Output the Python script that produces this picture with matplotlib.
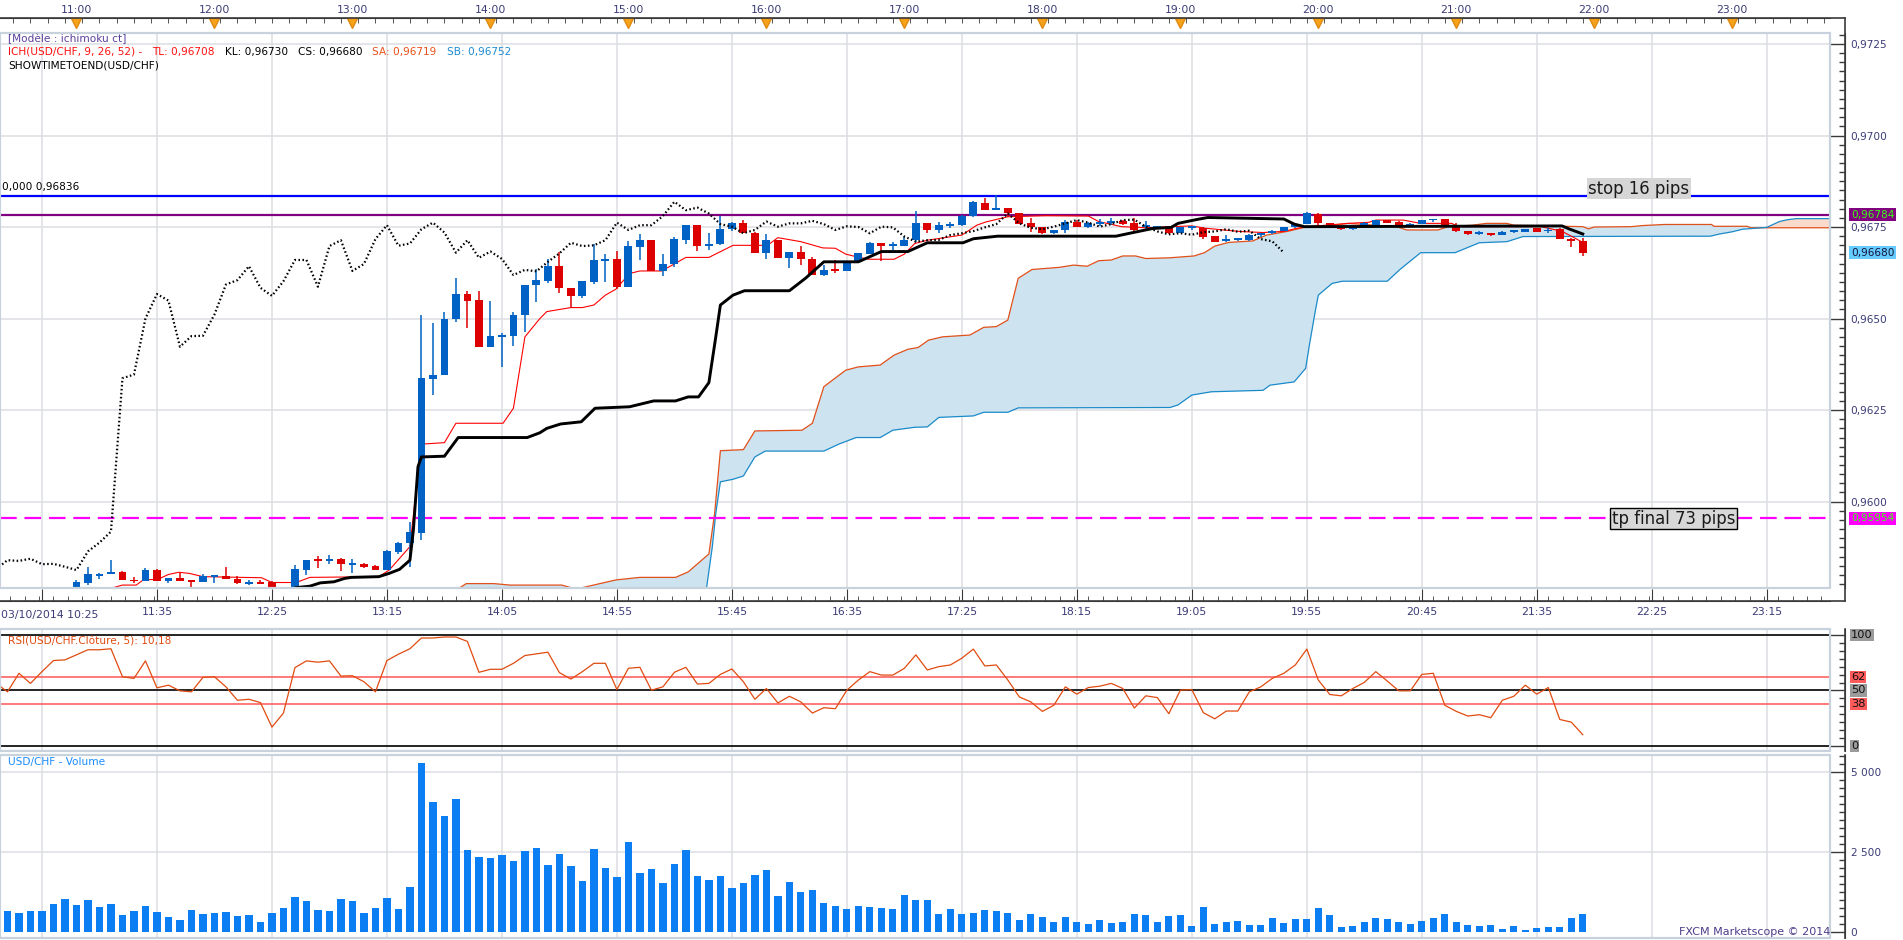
import numpy as np
import matplotlib.pyplot as plt
from matplotlib import transforms
from matplotlib.patches import Rectangle
from matplotlib.lines import Line2D
from matplotlib.ticker import FixedLocator, MultipleLocator, FuncFormatter

plt.rcParams['font.family'] = ['DejaVu Sans']

W, H = 1903, 940

# prices are given in pips above 0,9600 ; x = number of 5 min bars after 10:25
BASE, PIP = 0.9600, 0.0001
T0 = 10 * 60 + 25

candle_start = 7
opens = [-24.5, -22.3, -20.3, -19.9, -19.2, -21.4, -21.6, -18.6, -21.8, -20.8,
         -21.6, -22.0, -20.5, -20.2, -21.1, -22.4, -22.0, -22.0, -25.0, -24.6,
         -18.8, -16.0, -16.3, -15.7, -17.2, -17.0, -17.6, -18.7, -13.8, -11.3,
         -8.5, 33.5, 34.5, 49.9, 56.7, 55.0, 42.3, 45.0, 45.3, 51.0,
         59.3, 60.3, 64.3, 58.4, 56.2, 60.0, 65.8, 66.3, 58.7, 69.6,
         71.4, 63.0, 64.9, 71.4, 75.5, 69.9, 70.3, 74.4, 76.2, 73.5,
         68.0, 71.4, 66.6, 68.3, 66.4, 61.9, 63.3, 62.9, 65.5, 67.6,
         70.7, 69.8, 69.8, 71.4, 76.2, 74.2, 75.3, 75.5, 78.1, 81.7,
         79.6, 80.3, 78.7, 76.0, 75.1, 73.3, 74.2, 76.5, 75.1, 75.8,
         76.0, 76.7, 76.2, 75.1, 74.9, 75.1, 73.3, 74.8, 74.8, 72.5,
         71.3, 71.4, 71.4, 72.7, 73.3, 73.8, 74.9, 75.8, 78.5, 76.0,
         75.1, 74.4, 75.2, 75.6, 76.9, 76.5, 75.1, 75.8, 76.8, 77.2,
         75.1, 73.8, 73.1, 73.4, 72.9, 73.6, 73.7, 74.6, 73.8, 74.4,
         71.8, 71.3]
highs = [-21.4, -17.8, -19.4, -16.0, -18.9, -20.5, -18.2, -18.4, -20.9, -19.5,
         -21.4, -19.9, -20.3, -17.8, -20.3, -21.5, -21.4, -21.8, -24.2, -17.3,
         -16.0, -14.8, -14.6, -15.5, -15.6, -16.8, -17.4, -13.2, -11.0, -5.6,
         51.0, 48.9, 51.9, 61.1, 57.5, 57.5, 54.8, 46.0, 51.7, 59.3,
         63.4, 66.4, 68.3, 58.4, 60.2, 70.5, 67.6, 68.5, 71.2, 73.1,
         71.4, 67.6, 72.3, 75.5, 75.5, 73.3, 78.0, 76.5, 76.9, 73.7,
         73.1, 71.4, 68.3, 69.8, 66.9, 64.6, 66.0, 65.5, 67.8, 71.0,
         70.7, 71.0, 72.3, 79.4, 76.2, 76.3, 76.3, 78.3, 82.2, 82.8,
         83.7, 80.3, 78.8, 77.4, 75.1, 74.2, 77.0, 77.0, 76.3, 77.2,
         77.4, 77.0, 77.4, 76.7, 75.3, 75.1, 75.1, 75.1, 75.1, 72.5,
         72.8, 71.7, 73.0, 73.5, 74.2, 75.1, 76.0, 79.2, 78.7, 76.0,
         75.3, 75.2, 76.3, 77.0, 77.0, 76.6, 76.0, 77.0, 77.2, 77.3,
         76.0, 73.9, 73.8, 73.5, 73.8, 74.2, 74.5, 74.8, 74.6, 74.6,
         72.0, 72.0]
lows = [-25.0, -22.9, -21.2, -19.9, -21.3, -22.3, -21.6, -21.8, -22.3, -21.8,
        -23.5, -22.0, -22.3, -21.1, -22.4, -22.9, -22.6, -25.5, -26.0, -24.8,
        -20.1, -18.1, -17.1, -19.0, -19.6, -18.1, -18.8, -18.8, -14.2, -18.0,
        -10.5, 29.1, 34.5, 49.1, 47.3, 42.3, 42.3, 36.8, 42.6, 46.4,
        54.6, 59.8, 57.1, 52.8, 55.7, 59.5, 60.0, 58.0, 58.7, 66.0,
        63.0, 61.7, 64.2, 70.3, 68.5, 68.8, 70.1, 73.8, 73.5, 68.0,
        66.3, 66.6, 63.7, 64.6, 61.9, 61.5, 62.4, 62.9, 65.1, 67.6,
        65.8, 68.8, 69.8, 71.0, 73.3, 73.5, 74.7, 75.2, 77.8, 79.6,
        79.6, 77.8, 75.8, 73.7, 73.0, 73.0, 73.3, 75.0, 74.7, 75.4,
        75.5, 75.5, 74.0, 74.2, 74.5, 73.0, 73.3, 74.2, 71.7, 71.0,
        71.0, 71.3, 71.2, 72.4, 73.2, 73.8, 74.7, 75.7, 75.4, 74.7,
        74.2, 74.3, 75.1, 75.5, 76.0, 75.0, 75.0, 75.7, 76.5, 75.0,
        73.7, 72.9, 72.9, 72.6, 72.9, 73.3, 73.6, 73.6, 73.4, 71.7,
        69.6, 67.1]
closes = [-21.9, -19.9, -20.0, -19.2, -21.3, -21.8, -18.6, -21.8, -21.0, -21.6,
          -22.0, -20.2, -20.3, -21.1, -22.2, -22.2, -22.4, -25.0, -24.6, -18.5,
          -16.0, -16.2, -15.6, -17.1, -17.0, -17.8, -18.7, -13.6, -11.2, -8.2,
          33.7, 34.7, 50.0, 56.7, 54.9, 42.3, 45.2, 45.3, 51.1, 59.3,
          60.5, 64.3, 58.4, 56.2, 60.2, 66.0, 66.0, 58.7, 69.8, 71.4,
          63.0, 64.9, 71.7, 75.5, 69.9, 70.5, 74.4, 76.2, 73.5, 68.0,
          71.4, 66.6, 68.3, 66.3, 61.9, 63.3, 62.9, 65.5, 67.8, 70.7,
          69.8, 70.0, 71.4, 76.2, 74.2, 75.5, 75.5, 78.0, 81.9, 79.6,
          80.3, 78.7, 75.8, 75.1, 73.3, 74.2, 76.5, 75.1, 76.0, 76.0,
          76.7, 75.8, 74.2, 75.2, 75.0, 73.3, 75.1, 74.9, 72.4, 71.0,
          71.4, 71.5, 72.8, 73.3, 73.9, 74.9, 75.8, 78.7, 76.0, 74.8,
          74.4, 75.1, 76.0, 76.9, 76.2, 75.1, 75.8, 76.9, 77.0, 75.1,
          73.8, 73.0, 73.3, 72.9, 73.6, 73.8, 74.4, 73.7, 74.0, 71.7,
          71.1, 68.0]

# Ichimoku lines read as (bar, pips) vertices
tenkan_x = [10.2, 11.0, 12.2, 12.8, 14.1, 15.0, 15.9, 16.8, 18.0, 23.1, 24.0, 26.1, 27.3, 33.3,
            34.2, 36.0, 36.7, 37.0, 39.0, 40.0, 44.1, 45.0, 46.0, 47.3, 47.9, 50.0, 51.0, 52.0,
            53.0, 53.9, 55.1, 56.0, 57.9, 60.0, 62.0, 64.1, 67.1, 68.0, 70.0, 71.9, 73.0, 73.9,
            74.8, 75.9, 78.1, 79.0, 79.9, 81.0, 84.0, 85.3, 86.1, 88.0, 91.3, 95.0, 95.9, 97.9,
            100.0, 102.1, 104.0, 105.1, 108.1, 110.2, 112.0, 113.2, 114.1, 117.6, 119.4, 120.0,
            122.4, 123.9, 126.6, 127.2, 134.4, 136.2, 137.0, 138.0]
tenkan_y = [-23.5, -22.8, -22.8, -21.4, -21.2, -19.9, -19.3, -19.6, -20.5, -20.8, -22.1, -22.1,
            -20.7, -20.5, -18.7, -12.3, 7.7, 15.7, 16.1, 21.4, 21.4, 25.5, 45.0, 50.0, 51.9, 53.0,
            53.0, 53.7, 56.4, 58.0, 62.3, 63.0, 63.0, 66.7, 66.7, 70.0, 70.0, 72.1, 71.0, 69.3,
            69.2, 67.6, 66.9, 66.2, 66.2, 67.6, 70.5, 71.4, 72.8, 75.5, 76.4, 77.8, 78.1, 78.0,
            76.5, 75.1, 74.8, 75.1, 75.3, 74.7, 73.8, 73.5, 73.8, 74.7, 75.1, 76.0, 76.3, 76.9,
            76.9, 76.0, 76.0, 75.1, 75.1, 73.8, 72.5, 70.8]

kijun_x = [26.1, 27.3, 28.2, 29.4, 30.3, 30.9, 33.3, 34.2, 35.1, 36.0, 36.3, 36.7, 37.0, 39.0,
           40.2, 46.2, 47.3, 47.9, 49.1, 50.9, 52.1, 55.1, 57.2, 59.1, 60.2, 61.1, 62.0, 62.6,
           63.0, 64.1, 65.1, 69.0, 70.4, 72.0, 75.0, 77.0, 79.3, 81.0, 84.1, 85.0, 87.1, 97.4,
           98.9, 100.6, 102.2, 102.8, 104.5, 105.4, 112.0, 112.9, 113.8, 136.2, 136.8, 138.0]
kijun_y = [-23.5, -23.1, -22.2, -21.9, -21.0, -20.7, -20.5, -19.6, -18.5, -16.0, -7.8, 9.5, 12.2,
           12.4, 17.5, 17.5, 18.8, 20.0, 21.2, 21.8, 25.5, 25.9, 27.5, 27.5, 28.6, 28.6, 32.5,
           45.0, 53.7, 56.4, 57.6, 57.6, 61.0, 65.5, 65.5, 68.3, 68.3, 70.7, 70.7, 71.8, 72.5,
           72.5, 73.5, 74.6, 74.9, 76.0, 77.1, 77.6, 77.2, 75.8, 75.1, 75.3, 74.5, 73.1]

senkou_a_x = [40.3, 40.9, 43.3, 44.7, 49.2, 50.0, 51.0, 53.9, 56.0, 59.1, 60.2, 62.0, 62.5, 63.0,
              65.0, 66.0, 70.1, 71.0, 72.0, 73.9, 75.0, 76.9, 78.1, 79.3, 80.2, 81.1, 82.3, 84.7,
              85.9, 87.0, 88.0, 88.9, 90.1, 91.3, 92.5, 93.7, 94.9, 95.9, 97.0, 98.0, 99.1, 100.0,
              102.1, 104.2, 105.1, 106.0, 107.2, 109.3, 110.5, 112.3, 113.5, 114.1, 115.3, 117.6,
              121.8, 122.7, 125.4, 126.3, 128.4, 129.6, 131.4, 132.0, 138.0, 138.5, 139.0, 142.2,
              143.2, 145.1, 149.2, 149.4, 152.3, 152.6, 154.0, 159.5]
senkou_a_y = [-23.6, -22.4, -22.4, -22.8, -22.8, -23.5, -23.5, -21.4, -20.7, -20.7, -19.2, -14.3,
              -3.2, 13.9, 14.2, 19.3, 19.5, 21.4, 31.4, 35.9, 36.8, 37.3, 40.0, 41.6, 42.1, 44.1,
              45.0, 45.5, 47.6, 47.8, 49.6, 61.0, 63.4, 63.7, 64.0, 64.6, 64.3, 65.8, 66.0, 67.1,
              67.1, 66.4, 66.6, 67.1, 68.0, 69.8, 70.8, 71.2, 72.8, 73.8, 74.7, 75.1, 75.1, 76.0,
              75.1, 74.2, 74.2, 75.1, 75.5, 76.0, 76.0, 75.5, 75.1, 74.5, 75.0, 75.1, 75.4, 75.7,
              75.7, 75.2, 75.2, 74.8, 74.8, 74.8]

senkou_b_x = [40.3, 61.5, 61.8, 62.3, 62.6, 63.0, 64.1, 65.0, 66.0, 66.9, 72.0, 73.3, 74.8, 76.9,
              78.0, 79.9, 81.0, 82.0, 85.0, 85.9, 88.0, 88.9, 102.1, 102.8, 104.0, 105.7, 110.2,
              110.8, 112.9, 113.9, 114.2, 114.7, 115.0, 116.2, 117.1, 121.0, 122.1, 123.9, 126.9,
              129.0, 131.4, 132.8, 149.1, 149.9, 151.0, 151.9, 154.0, 155.1, 155.8, 156.6, 159.5]
senkou_b_y = [-32.0, -32.0, -23.5, -12.3, -3.2, 5.4, 6.1, 7.0, 12.2, 13.8, 13.8, 15.7, 17.5, 17.5,
              19.5, 20.3, 20.4, 23.0, 23.4, 24.4, 24.4, 25.6, 25.7, 26.4, 29.1, 30.0, 30.4, 31.8,
              32.7, 36.4, 42.3, 51.4, 56.4, 59.6, 60.2, 60.2, 63.4, 68.0, 68.0, 70.7, 71.0, 72.4,
              72.5, 73.1, 73.7, 74.4, 74.9, 76.5, 77.0, 77.3, 77.3]

chikou_shift = 26

rsi_values = [56.6, 48.8, 65.5, 56.4, 67.0, 77.0, 77.6, 82.1, 86.7, 86.7,
              87.6, 62.4, 60.9, 76.7, 52.4, 54.8, 49.7, 48.8, 61.8, 62.4,
              53.3, 41.2, 42.1, 39.1, 17.0, 29.7, 70.6, 76.7, 75.5, 76.7,
              63.0, 63.3, 57.9, 48.8, 77.0, 82.7, 87.6, 97.3, 97.3, 98.2,
              98.2, 94.2, 66.4, 69.1, 69.1, 74.5, 81.5, 83.0, 84.5, 66.1,
              60.3, 67.0, 74.5, 74.5, 50.9, 70.0, 70.9, 50.3, 53.3, 66.4,
              70.9, 55.8, 56.4, 64.5, 69.4, 57.9, 42.1, 51.8, 38.8, 44.8,
              39.7, 29.7, 34.5, 33.6, 50.3, 59.4, 67.0, 63.9, 63.9, 70.0,
              82.1, 68.5, 71.5, 73.0, 79.1, 87.3, 72.1, 73.0, 59.4, 44.2,
              39.7, 31.2, 36.7, 53.3, 46.7, 52.7, 53.9, 56.4, 51.8, 34.2,
              45.2, 43.6, 29.1, 50.3, 50.9, 30.0, 24.5, 31.5, 31.5, 48.8,
              53.3, 60.9, 65.5, 73.0, 87.3, 59.4, 46.4, 45.2, 51.8, 57.3,
              67.0, 58.5, 49.7, 49.7, 64.5, 65.5, 36.7, 31.2, 27.0, 28.2,
              25.5, 41.2, 44.8, 54.8, 46.7, 52.7, 23.9, 21.5, 10.18]

volume_start = 1
volumes = [650, 597, 650, 650, 880, 1038, 849, 996, 776, 880,
           534, 650, 807, 618, 461, 367, 681, 566, 597, 618,
           493, 524, 304, 587, 744, 1090, 964, 681, 650, 1027,
           964, 597, 744, 1058, 713, 1404, 5271, 4077, 3637, 4171,
           2568, 2348, 2316, 2410, 2222, 2536, 2630, 2096, 2442, 2065,
           1593, 2599, 2002, 1719, 2819, 1845, 1970, 1530, 2128, 2568,
           1750, 1624, 1750, 1373, 1530, 1782, 1939, 1121, 1562, 1247,
           1310, 912, 807, 713, 807, 776, 744, 713, 1153, 996,
           996, 555, 713, 555, 597, 681, 650, 587, 367, 555,
           461, 304, 461, 304, 241, 367, 272, 304, 555, 524,
           304, 493, 524, 178, 776, 241, 304, 335, 210, 210,
           430, 272, 398, 398, 744, 524, 147, 178, 304, 430,
           398, 304, 241, 335, 430, 555, 304, 210, 178, 210,
           84, 178, 52, 115, 147, 147, 430, 555]

price_levels = [0.96836, 0.96784, 0.95954]
last_close = 0.96680
bottom_labels = ['11:35', '12:25', '13:15', '14:05', '14:55', '15:45', '16:35', '17:25',
                 '18:15', '19:05', '19:55', '20:45', '21:35', '22:25', '23:15']
top_labels = ['11:00', '12:00', '13:00', '14:00', '15:00', '16:00', '17:00', '18:00',
              '19:00', '20:00', '21:00', '22:00', '23:00']
rsi_levels = [100, 62, 50, 38, 0]
vol_ticks = [0, 2500, 5000]


def bar_of(hhmm):
    hh, mm = hhmm.split(':')
    return (int(hh) * 60 + int(mm) - T0) / 5.0


def P(v):
    return BASE + np.asarray(v, dtype=float) * PIP


def fx(px):
    return px / W


def fy(py):
    return 1 - py / H


XLIM = (0.35, 159.5)
GRID = '#dcdee2'
AXC = '#3a3a3a'
LBL = '#3b3b78'
FS = 7.6
BLUE = '#0062c4'
RED = '#dd0000'

fig = plt.figure(figsize=(W / 100, H / 100), dpi=100)
fig.patch.set_facecolor('white')

ax = fig.add_axes([0, fy(588), fx(1830), 555 / H])
ax_rsi = fig.add_axes([0, fy(751), fx(1830), 122 / H])
ax_vol = fig.add_axes([0, fy(938), fx(1830), 183 / H])

grid_bars = [bar_of('10:45')] + [bar_of(t) for t in bottom_labels]


def setup_panel(a):
    a.set_xlim(*XLIM)
    for s in ('left', 'top'):
        a.spines[s].set_visible(False)
    a.add_patch(Rectangle((0, 0), 1, 1, transform=a.transAxes, fill=False,
                          ec='#c8d2dd', lw=1.6, clip_on=False, zorder=20))
    a.yaxis.tick_right()
    a.spines['right'].set_position(('outward', 10.8))
    a.spines['right'].set_color(AXC)
    a.tick_params(axis='y', which='both', direction='in', colors=AXC,
                  labelcolor=LBL, labelsize=FS, pad=4)
    a.tick_params(axis='y', which='major', length=10.8, width=1)
    a.tick_params(axis='y', which='minor', length=4.5, width=1)
    for g in grid_bars:
        a.axvline(g, color=GRID, lw=1.1, zorder=0)


for a in (ax, ax_rsi, ax_vol):
    setup_panel(a)

# ---------------- main price panel ----------------
ax.set_ylim(0.95764, 0.97280)
for lev in np.arange(0.9600, 0.97260, 0.0025):
    ax.axhline(lev, color=GRID, lw=1.1, zorder=0)

sa_x, sa_y = np.array(senkou_a_x), P(senkou_a_y)
sb_x, sb_y = np.array(senkou_b_x), P(senkou_b_y)
cross = 154.0
ma, mb = sa_x <= cross, sb_x <= cross
ax.fill(np.concatenate([sa_x[ma], sb_x[mb][::-1]]), np.concatenate([sa_y[ma], sb_y[mb][::-1]]),
        color='#cde3f0', lw=0, zorder=1)
ma, mb = sa_x >= cross, sb_x >= cross
ax.fill(np.concatenate([sa_x[ma], sb_x[mb][::-1]]), np.concatenate([sa_y[ma], sb_y[mb][::-1]]),
        color='#f9dacb', lw=0, zorder=1)
ax.plot(sa_x, sa_y, color='#e2501a', lw=0.9, zorder=2)
ax.plot(sb_x, sb_y, color='#1a8ac9', lw=0.9, zorder=2)

ax.axhline(price_levels[0], color='#0000ff', lw=1.6, zorder=3)
ax.axhline(price_levels[1], color='#800080', lw=1.6, zorder=3)
ax.axhline(price_levels[2], color='#ff00ff', lw=1.6, ls=(0, (7.5, 3.5)), zorder=3)

idx = np.arange(candle_start, candle_start + len(opens))
o, hi, lo, c = P(opens), P(highs), P(lows), P(closes)
cols = np.where(c >= o, BLUE, RED)
ax.plot(tenkan_x, P(tenkan_y), color='#ff0000', lw=0.8, zorder=3)
ax.vlines(idx, lo, hi, colors=cols, lw=1.1, zorder=4)
body = np.maximum(np.abs(c - o), 0.5 * PIP)
ax.bar(idx, body, bottom=np.minimum(o, c), width=0.68, color=cols, lw=0, zorder=5)
ax.plot(kijun_x, P(kijun_y), color='black', lw=2.1, zorder=6)
ax.plot(idx - chikou_shift, c, color='black', lw=1.6, ls=(0, (0.7, 1.1)), zorder=6)

ax.spines['bottom'].set_position(('outward', 9))
ax.spines['bottom'].set_color(AXC)
ax.xaxis.set_major_locator(FixedLocator(grid_bars))
ax.xaxis.set_ticklabels([''] + bottom_labels)
ax.xaxis.set_minor_locator(MultipleLocator(1.25))
ax.tick_params(axis='x', which='both', direction='in', colors=AXC,
               labelcolor=LBL, labelsize=FS + 0.2, pad=5)
ax.tick_params(axis='x', which='major', length=8.6)
ax.tick_params(axis='x', which='minor', length=3.5)

ax.yaxis.set_major_locator(MultipleLocator(0.0025))
ax.yaxis.set_minor_locator(MultipleLocator(0.00025))
ax.yaxis.set_major_formatter(FuncFormatter(lambda v, p: f'{v:.4f}'.replace('.', ',')))

ytr = transforms.blended_transform_factory(ax.transAxes, ax.transData)
tag_x = 1851 / 1830
for val, bg, fg in [(price_levels[1], '#800080', '#39ff14'), (last_close, '#66ccff', '#14143c'),
                    (price_levels[2], '#ff00ff', '#39ff14')]:
    ax.text(tag_x, val, f'{val:.5f}'.replace('.', ','), transform=ytr, va='center', ha='left',
            fontsize=FS, color=fg, clip_on=False, zorder=30,
            bbox=dict(boxstyle='square,pad=0.15', fc=bg, ec='none'))

ax.text(1639 / 1830, (588 - 188.5) / 555, 'stop 16 pips', transform=ax.transAxes, ha='center',
        va='center', fontsize=11.9, color='#1a1a1a', zorder=30,
        bbox=dict(boxstyle='square,pad=0.12', fc='#d6d6d6', ec='none'))
ax.text(1673.5 / 1830, (588 - 518.5) / 555, 'tp final 73 pips', transform=ax.transAxes,
        ha='center', va='center', fontsize=11.9, color='#1a1a1a', zorder=30,
        bbox=dict(boxstyle='square,pad=0.12', fc='#d8d8d8', ec='black', lw=1))
ax.text(2 / 1830, (588 - 187) / 555, '0,000 0,96836', transform=ax.transAxes, ha='left',
        va='center', fontsize=FS, color='black', zorder=30)

# top time axis
ax_top = fig.add_axes([0, fy(588), fx(1830), 555 / H])
ax_top.patch.set_visible(False)
ax_top.set_xlim(*XLIM)
ax_top.yaxis.set_visible(False)
for s in ('left', 'right', 'bottom'):
    ax_top.spines[s].set_visible(False)
ax_top.spines['top'].set_position(('outward', 10.8))
ax_top.spines['top'].set_color(AXC)
ax_top.xaxis.tick_top()
hour_bars = [bar_of(t) for t in top_labels]
ax_top.xaxis.set_major_locator(FixedLocator(hour_bars))
ax_top.xaxis.set_ticklabels(top_labels)
ax_top.xaxis.set_minor_locator(MultipleLocator(1.5))
ax_top.tick_params(axis='x', which='both', direction='in', colors=AXC, length=3.6,
                   labelcolor=LBL, labelsize=FS + 0.2, pad=2.5)
tri = transforms.blended_transform_factory(ax_top.transData, fig.transFigure)
ax_top.plot(hour_bars, [fy(22.5)] * len(hour_bars), transform=tri, ls='none', marker='v',
            markersize=7.5, color='#f7a21b', mec='#e08a10', clip_on=False, zorder=10)

# ---------------- RSI panel ----------------
ax_rsi.set_ylim(-4.5, 105.4)
for lev in rsi_levels:
    colr, lw = ('black', 1.2) if lev in (0, 50, 100) else ('#ff5555', 1.1)
    ax_rsi.axhline(lev, color=colr, lw=lw, zorder=2)
ax_rsi.plot(np.arange(len(rsi_values)), rsi_values, color='#e04b10', lw=0.9, zorder=3)
ax_rsi.tick_params(axis='x', which='both', bottom=False, labelbottom=False)
ax_rsi.spines['bottom'].set_visible(False)
ax_rsi.yaxis.set_major_locator(FixedLocator([0, 50, 100]))
ax_rsi.yaxis.set_minor_locator(MultipleLocator(50 / 7))
ax_rsi.tick_params(axis='y', labelright=False)
ytr_r = transforms.blended_transform_factory(ax_rsi.transAxes, ax_rsi.transData)
for lev in rsi_levels:
    bg = '#9b9b9b' if lev in (0, 50, 100) else '#ff5a5a'
    ax_rsi.text(tag_x, lev, str(lev), transform=ytr_r, va='center', ha='left', fontsize=FS + 0.6,
                color='#111111', clip_on=False, bbox=dict(boxstyle='square,pad=0.1', fc=bg, ec='none'))
ax_rsi.text(8 / 1830, 0.9, 'RSI(USD/CHF.Clôture, 5): 10,18', transform=ax_rsi.transAxes,
            ha='left', va='center', fontsize=FS, color='#e04b10')

# ---------------- volume panel ----------------
ax_vol.set_ylim(-187, 5531)
for lev in (2500, 5000):
    ax_vol.axhline(lev, color=GRID, lw=1.1, zorder=0)
vx = np.arange(volume_start, volume_start + len(volumes))
ax_vol.bar(vx, volumes, width=0.63, color='#0a7ef2', lw=0, zorder=2)
ax_vol.tick_params(axis='x', which='both', bottom=False, labelbottom=False)
ax_vol.spines['bottom'].set_visible(False)
ax_vol.yaxis.set_major_locator(FixedLocator(vol_ticks))
ax_vol.yaxis.set_major_formatter(FuncFormatter(lambda v, p: f'{int(v):,}'.replace(',', ' ')))
ax_vol.yaxis.set_minor_locator(MultipleLocator(250))
ax_vol.text(8 / 1830, 0.96, 'USD/CHF - Volume', transform=ax_vol.transAxes, ha='left',
            va='center', fontsize=FS, color='#1a8cff')
ax_vol.text(1, 6 / 183, 'FXCM Marketscope © 2014', transform=ax_vol.transAxes, ha='right',
            va='center', fontsize=FS + 0.4, color='#4f3c8a', zorder=25)

# axis lines joining the panels
for xs, ys in [((0, 1845), (18, 18)), ((1845, 1845), (18, 601)), ((0, 1845), (601, 601)),
               ((1845, 1845), (629, 751)), ((1845, 1845), (755, 938))]:
    fig.add_artist(Line2D([fx(x) for x in xs], [fy(y) for y in ys], color=AXC, lw=1.2,
                          transform=fig.transFigure))

# header texts
fig.text(fx(8), fy(39), '[Modèle : ichimoku ct]', fontsize=FS, color='#5b3f9e', va='center')
fig.text(fx(8), fy(65), 'SHOWTIMETOEND(USD/CHF)', fontsize=FS, color='black', va='center')
fig.text(fx(1), fy(615), '03/10/2014 10:25', fontsize=FS + 0.2, color=LBL, va='center')

renderer = fig.canvas.get_renderer()
xpos = 8
for txt, colr in [('ICH(USD/CHF, 9, 26, 52) -', '#ff1010'), ('TL: 0,96708', '#ff1010'),
                  ('KL: 0,96730', 'black'), ('CS: 0,96680', 'black'),
                  ('SA: 0,96719', '#e8501a'), ('SB: 0,96752', '#1e8ad2')]:
    t = fig.text(fx(xpos), fy(52), txt, fontsize=FS, color=colr, va='center', ha='left')
    xpos = t.get_window_extent(renderer).x1 + 10

fig.savefig('out.png', dpi=100)
